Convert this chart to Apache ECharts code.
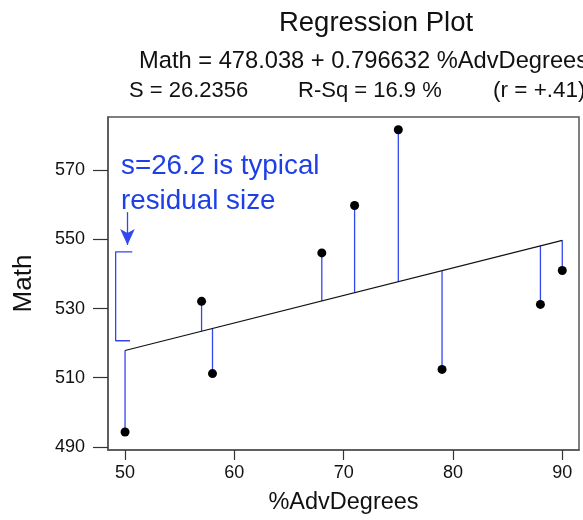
<!DOCTYPE html>
<html>
<head>
<meta charset="utf-8">
<script src="https://cdn.jsdelivr.net/npm/echarts@6/dist/echarts.min.js"></script>
<style>
  html, body { margin: 0; padding: 0; background: #fff; }
  #chart { width: 583px; height: 520px; }
</style>
</head>
<body>
<div id="chart"></div>
<script>
// data
const advDegrees = [50, 57, 58, 68, 71, 75, 79, 88, 90]
const mathScores = [494.3, 532.1, 511.2, 546.1, 559.8, 581.7, 512.4, 531.2, 541.0]

// fitted line  Math = b0 + b1 * %AdvDegrees
const b0 = 478.038
const b1 = 0.796632
const fitRange = [50, 90]

const xTicks = [50, 60, 70, 80, 90]
const yTicks = [490, 510, 530, 550, 570]

// the "s" bracket and arrow (in data units)
const bracketPts = [[50.66, 546.4], [49.14, 546.4], [49.14, 520.7], [50.45, 520.7]]
const arrowPts = [[50.22, 557.9], [50.22, 548.4]]

const BLUE = '#3347ee'
const TXT_BLUE = '#1f3fe6'
const FONT = 'Liberation Sans, Arial, sans-serif'

const fitData = fitRange.map(x => [x, b0 + b1 * x])
const pts = advDegrees.map((x, i) => [x, mathScores[i]])

var myChart = echarts.init(document.getElementById('chart'))

var option = {
  animation: false,
  backgroundColor: '#fff',
  textStyle: { fontFamily: FONT },
  grid: {
    left: 108, right: 4, top: 117, bottom: 65,
    show: true, borderColor: '#555', borderWidth: 1.5, backgroundColor: 'transparent'
  },
  xAxis: {
    type: 'value',
    min: 48.44, max: 91.53,
    name: '%AdvDegrees',
    nameLocation: 'middle',
    nameGap: 41,
    nameTextStyle: { fontSize: 23.5, color: '#111', fontFamily: FONT },
    axisLine: { show: true, lineStyle: { color: '#555', width: 1.5 } },
    axisTick: { show: true, length: 10, customValues: xTicks, lineStyle: { color: '#333', width: 1.2 } },
    axisLabel: { customValues: xTicks, fontSize: 18, color: '#111', margin: 14, fontFamily: FONT },
    splitLine: { show: false }
  },
  yAxis: {
    type: 'value',
    min: 489.1, max: 585.4,
    name: 'Math',
    nameLocation: 'middle',
    nameGap: 71,
    nameTextStyle: { fontSize: 26, color: '#111', fontFamily: FONT },
    axisLine: { show: true, lineStyle: { color: '#555', width: 1.5 } },
    axisTick: { show: true, length: 15, customValues: yTicks, lineStyle: { color: '#333', width: 1.2 } },
    axisLabel: { customValues: yTicks, fontSize: 18, color: '#111', margin: 23, fontFamily: FONT },
    splitLine: { show: false }
  },
  series: [
    {
      // residuals: point to fitted value
      type: 'custom',
      data: pts,
      z: 2,
      renderItem: function (params, api) {
        var x = api.value(0)
        var p1 = api.coord([x, api.value(1)])
        var p2 = api.coord([x, b0 + b1 * x])
        return {
          type: 'line',
          shape: { x1: p1[0], y1: p1[1], x2: p2[0], y2: p2[1] },
          style: { stroke: BLUE, lineWidth: 1.3 }
        }
      }
    },
    {
      type: 'line',
      data: fitData,
      showSymbol: false,
      lineStyle: { color: '#111', width: 1.2 },
      z: 3
    },
    {
      type: 'scatter',
      data: pts,
      symbolSize: 9,
      itemStyle: { color: '#000', opacity: 1 },
      z: 4
    },
    {
      type: 'line',
      data: bracketPts,
      showSymbol: false,
      lineStyle: { color: BLUE, width: 1.3 },
      z: 2,
      markLine: {
        silent: true,
        symbol: ['none', 'arrow'],
        symbolSize: [11, 16],
        label: { show: false },
        lineStyle: { color: BLUE, width: 1.3, type: 'solid' },
        data: [[{ coord: arrowPts[0] }, { coord: arrowPts[1] }]]
      }
    }
  ],
  graphic: [
    { type: 'text', x: 376, y: 23, style: { text: 'Regression Plot', font: '27.5px ' + FONT, fill: '#111', align: 'center', verticalAlign: 'middle' } },
    { type: 'text', x: 139, y: 61, style: { text: 'Math = 478.038 + 0.796632 %AdvDegrees', font: '23.7px ' + FONT, fill: '#111', verticalAlign: 'middle' } },
    { type: 'text', x: 129, y: 91, style: { text: 'S = 26.2356', font: '22px ' + FONT, fill: '#111', verticalAlign: 'middle' } },
    { type: 'text', x: 298, y: 91, style: { text: 'R-Sq = 16.9 %', font: '22px ' + FONT, fill: '#111', verticalAlign: 'middle' } },
    { type: 'text', x: 493, y: 91, style: { text: '(r = +.41)', font: '22.5px ' + FONT, fill: '#111', verticalAlign: 'middle' } },
    { type: 'text', x: 121, y: 166, style: { text: 's=26.2 is typical', font: '27.8px ' + FONT, fill: TXT_BLUE, verticalAlign: 'middle' } },
    { type: 'text', x: 121, y: 201, style: { text: 'residual size', font: '27.8px ' + FONT, fill: TXT_BLUE, verticalAlign: 'middle' } }
  ]
}

myChart.setOption(option)
</script>
</body>
</html>
